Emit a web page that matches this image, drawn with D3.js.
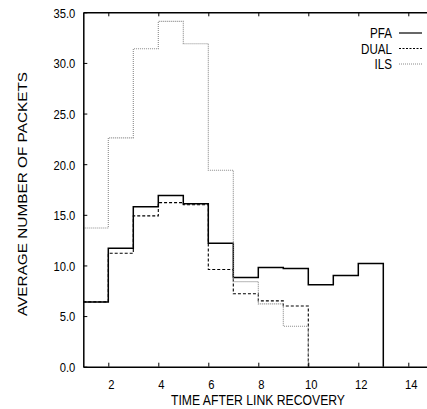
<!DOCTYPE html>
<html>
<head>
<meta charset="utf-8">
<script src="https://cdn.jsdelivr.net/npm/d3@7"></script>
<style>
  body { margin: 0; background: #fff; }
  svg { display: block; font-family: "Liberation Sans", Arial, sans-serif; }
</style>
</head>
<body>
<svg id="chart"></svg>
<script>
// values per one-unit bin, bin i spans [binStart[i], binStart[i] + 1]
const pfaStart = [1, 2, 3, 4, 5, 6, 7, 8, 9, 10, 11, 12];
const pfaValues = [6.4, 11.7, 15.8, 16.9, 16.1, 12.2, 8.8, 9.8, 9.7, 8.1, 9.0, 10.2];
const dualStart = [1, 2, 3, 4, 5, 6, 7, 8, 9];
const dualValues = [6.4, 11.2, 14.9, 16.2, 16.0, 9.6, 7.2, 6.5, 6.0];
const ilsStart = [1, 2, 3, 4, 5, 6, 7, 8, 9];
const ilsValues = [13.7, 22.6, 31.4, 34.1, 31.9, 19.4, 8.4, 6.2, 4.0];
const xTicks = [2, 4, 6, 8, 10, 12, 14];
const yTicks = [0, 5, 10, 15, 20, 25, 30, 35];

const W = 427, H = 409;
const squeeze = 0.83; // text in the original is horizontally narrowed

const svg = d3.select("#chart").attr("width", W).attr("height", H);

const x = d3.scaleLinear().domain([1, 15]).range([83.3, 433.3]);
const y = d3.scaleLinear().domain([0, 35]).range([366.7, 12.3]);

// turn bins into a step path: across each bin, then back down to 0
const stepPoints = (starts, values) => {
    const pts = starts.map((s, i) => ({ x: s, y: values[i] }));
    const last = starts[starts.length - 1] + 1;
    pts.push({ x: last, y: values[values.length - 1] });
    pts.push({ x: last, y: 0 });
    return pts;
};
const line = d3.line()
    .x(d => x(d.x))
    .y(d => y(d.y))
    .curve(d3.curveStepAfter);

const series = [
    { name: "PFA", starts: pfaStart, values: pfaValues, color: "#000", width: 1.5, dash: null },
    { name: "DUAL", starts: dualStart, values: dualValues, color: "#000", width: 1.1, dash: "3,2" },
    { name: "ILS", starts: ilsStart, values: ilsValues, color: "#8a8a8a", width: 1.1, dash: "1,1" }
];

series.forEach(s => {
    svg.append("path")
        .datum(stepPoints(s.starts, s.values))
        .attr("fill", "none")
        .attr("stroke", s.color)
        .attr("stroke-width", s.width)
        .attr("stroke-dasharray", s.dash)
        .attr("d", line);
});

// Y axis (ticks inward)
const yAxis = svg.append("g")
    .attr("transform", "translate(" + x(1) + ",0)")
    .call(d3.axisLeft(y).tickValues(yTicks).tickFormat(d3.format(".1f")).tickSize(0).tickPadding(0));
yAxis.select(".domain").attr("stroke", "#000").attr("stroke-width", 1.5);
yAxis.selectAll(".tick line").attr("x2", 4).attr("stroke", "#000");
yAxis.selectAll(".tick text")
    .attr("x", -8 / squeeze)
    .attr("dy", "0.36em")
    .attr("transform", "scale(" + squeeze + ",1)")
    .style("font-size", "13.5px")
    .attr("fill", "#000");

// X axis bottom (ticks inward)
const xAxis = svg.append("g")
    .attr("transform", "translate(0," + y(0) + ")")
    .call(d3.axisBottom(x).tickValues(xTicks).tickSize(0).tickPadding(0));
xAxis.select(".domain").attr("stroke", "#000").attr("stroke-width", 1.5);
xAxis.selectAll(".tick line").attr("y2", -4).attr("stroke", "#000");
xAxis.selectAll(".tick text")
    .attr("y", 22)
    .attr("dy", 0)
    .attr("x", 2.5 / squeeze)
    .attr("transform", "scale(" + squeeze + ",1)")
    .style("font-size", "13.5px")
    .attr("fill", "#000");

// top border with mirrored ticks
const xTop = svg.append("g")
    .attr("transform", "translate(0," + y(35) + ")")
    .call(d3.axisTop(x).tickValues(xTicks).tickSize(0).tickFormat(""));
xTop.select(".domain").attr("stroke", "#000").attr("stroke-width", 1.5);
xTop.selectAll(".tick line").attr("y2", 4).attr("stroke", "#000");

// axis titles
svg.append("text")
    .attr("x", 258)
    .attr("y", 405)
    .attr("text-anchor", "middle")
    .attr("textLength", 174)
    .attr("lengthAdjust", "spacingAndGlyphs")
    .style("font-size", "14px")
    .text("TIME AFTER LINK RECOVERY");

svg.append("text")
    .attr("transform", "translate(26.5,194) rotate(-90)")
    .attr("text-anchor", "middle")
    .attr("textLength", 244)
    .attr("lengthAdjust", "spacingAndGlyphs")
    .style("font-size", "13px")
    .text("AVERAGE NUMBER OF PACKETS");

// legend
const legend = svg.append("g");
series.forEach((s, i) => {
    const ly = 33 + i * 15.5;
    legend.append("text")
        .attr("transform", "translate(392," + ly + ") scale(" + squeeze + ",1)")
        .attr("text-anchor", "end")
        .attr("dy", "0.36em")
        .style("font-size", "14px")
        .text(s.name);
    legend.append("line")
        .attr("x1", 399).attr("x2", 422)
        .attr("y1", ly).attr("y2", ly)
        .attr("stroke", s.color)
        .attr("stroke-width", s.name === "PFA" ? 1.2 : 1)
        .attr("stroke-dasharray", s.name === "DUAL" ? "2,1.5" : s.dash);
});
</script>
</body>
</html>
